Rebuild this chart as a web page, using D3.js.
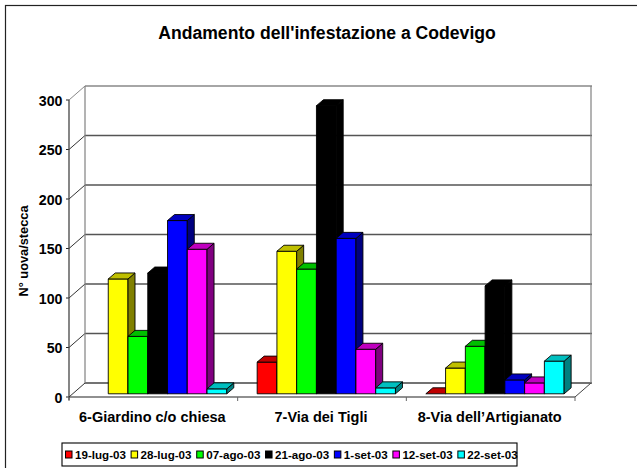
<!DOCTYPE html>
<html><head><meta charset="utf-8">
<script src="https://cdn.jsdelivr.net/npm/d3@7/dist/d3.min.js"></script>
<style>html,body{margin:0;padding:0;background:#fff}svg{display:block}text{font-family:"Liberation Sans",Arial,sans-serif;font-weight:bold;fill:#000}</style>
</head><body><svg id="c" width="637" height="468"></svg>
<script>
const categories = ["6-Giardino c/o chiesa", "7-Via dei Tigli", "8-Via dell\u2019Artigianato"];
const seriesNames = ["19-lug-03","28-lug-03","07-ago-03","21-ago-03","1-set-03","12-set-03","22-set-03"];
const seriesColors = ["#ff0000","#ffff00","#00ff00","#000000","#0000ff","#ff00ff","#00ffff"];
const giardino = [null,116,58,122,175,146,5];
const tigli = [32,144,126,291,157,45,6];
const artigianato = [0,26,48,109,14,11,33];
const yTicks = [0,50,100,150,200,250,300];
const rows = [giardino,tigli,artigianato];

const svg = d3.select("#c");
const W = {l:69,r:575,t:100,b:397,dx:16,dy:14,bdx:7,bdy:6,ox:4.3,oy:3.2};
const x0 = d3.scaleBand().domain(categories).range([W.l,W.r]);
const x1 = d3.scaleBand().domain(seriesNames).range([15.2,153.5]);
const y = d3.scaleLinear().domain([0,300]).range([W.b,W.t]);

svg.append("rect").attr("x",5.5).attr("y",5.5).attr("width",640).attr("height",470).attr("fill","#fff").attr("stroke","#222").attr("stroke-width",1.2);
svg.append("text").attr("x",327).attr("y",39).attr("text-anchor","middle").attr("font-size",17.6).text("Andamento dell'infestazione a Codevigo");

// back wall & grid
const g = svg.append("g");
yTicks.forEach(t=>{
  const yy=y(t);
  g.append("line").attr("x1",W.l+W.dx).attr("x2",W.r+W.dx+1).attr("y1",yy-W.dy).attr("y2",yy-W.dy)
    .attr("stroke",t===0?"#444":(t===300?"#888":"#555")).attr("stroke-width",t===0?1.5:1.3);
  g.append("line").attr("x1",W.l).attr("x2",W.l+W.dx).attr("y1",yy).attr("y2",yy-W.dy).attr("stroke",t===300?"#888":"#333");
  g.append("line").attr("x1",W.l-3).attr("x2",W.l).attr("y1",yy).attr("y2",yy).attr("stroke","#222");
  g.append("text").attr("x",W.l-6.5).attr("y",yy+5.8).attr("text-anchor","end").attr("font-size",14.2).text(t);
});
g.append("line").attr("x1",W.l+W.dx).attr("x2",W.l+W.dx).attr("y1",y(300)-W.dy).attr("y2",y(0)-W.dy).attr("stroke","#808080").attr("stroke-width",1.2);
g.append("line").attr("x1",W.r+W.dx).attr("x2",W.r+W.dx).attr("y1",y(300)-W.dy).attr("y2",y(0)-W.dy).attr("stroke","#808080").attr("stroke-width",1.2);
g.append("line").attr("x1",W.r).attr("x2",W.r+W.dx).attr("y1",W.b).attr("y2",W.b-W.dy).attr("stroke","#444");
g.append("line").attr("x1",W.l).attr("x2",W.l).attr("y1",y(300)).attr("y2",W.b+3).attr("stroke","#444").attr("stroke-width",1.3);
g.append("line").attr("x1",W.l).attr("x2",W.r).attr("y1",W.b).attr("y2",W.b).attr("stroke","#222").attr("stroke-width",1.2);
[...categories.map(c=>x0(c)),W.r].forEach(v=>g.append("line").attr("x1",v).attr("x2",v).attr("y1",W.b).attr("y2",W.b+4).attr("stroke","#666"));

// bars
const shade=(c,k)=>{const r=d3.rgb(c);return d3.rgb(r.r*k,r.g*k,r.b*k).formatHex();};
const bars = svg.append("g").attr("stroke","#000").attr("stroke-width",0.9).attr("stroke-linejoin","round");
categories.forEach((cat,ci)=>{
  seriesNames.forEach((s,si)=>{
    const v=rows[ci][si];
    if(v===null) return;
    const a=x0(cat)+x1(s)+W.ox, b=a+x1.bandwidth();
    const base=W.b-W.oy, top=y(v)-W.oy;
    if(v>0){
      bars.append("rect").attr("x",a).attr("y",top).attr("width",b-a).attr("height",base-top).attr("fill",seriesColors[si]);
      bars.append("path").attr("d",`M${b},${top}L${b+W.bdx},${top-W.bdy}L${b+W.bdx},${base-W.bdy}L${b},${base}Z`).attr("fill",shade(seriesColors[si],.5));
    }
    bars.append("path").attr("d",`M${a},${top}L${a+W.bdx},${top-W.bdy}L${b+W.bdx},${top-W.bdy}L${b},${top}Z`).attr("fill",shade(seriesColors[si],.75));
  });
  svg.append("text").attr("x",x0(cat)+x0.bandwidth()/2-1).attr("y",422).attr("text-anchor","middle").attr("font-size",14.5).text(cat);
});

svg.append("text").attr("transform","translate(28,251) rotate(-90)").attr("text-anchor","middle").attr("font-size",12.8).text("N\u00b0 uova/stecca");

// legend
const lg=svg.append("g");
lg.append("rect").attr("x",62).attr("y",443).attr("width",455).attr("height",23).attr("fill","#fff").attr("stroke","#000").attr("stroke-width",1.1);
let cx=65.5;
seriesNames.forEach((s,i)=>{
  lg.append("rect").attr("x",cx).attr("y",451).attr("width",6.5).attr("height",7).attr("fill",seriesColors[i]).attr("stroke","#000");
  const t=lg.append("text").attr("x",cx+9.5).attr("y",458.5).attr("font-size",11.6).text(s);
  cx+=9.5+t.node().getComputedTextLength()+5.2;
});
</script></body></html>
